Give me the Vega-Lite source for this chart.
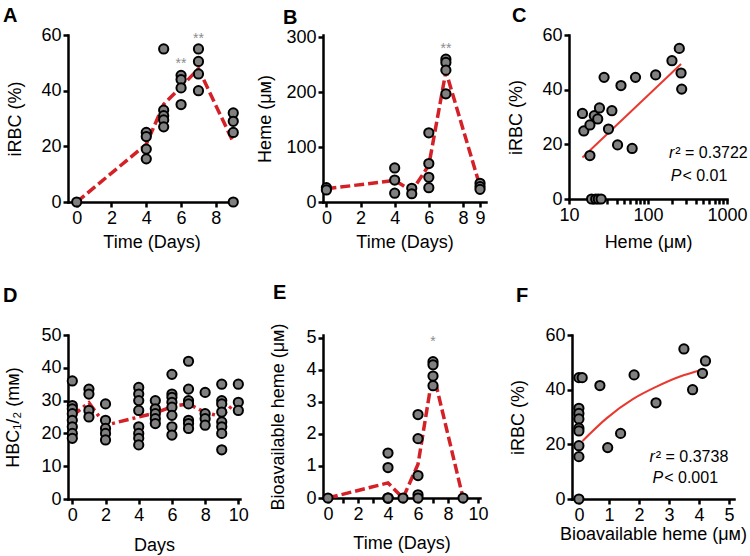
{
  "$schema": "https://vega.github.io/schema/vega-lite/v6.json",
  "padding": {"left": 3, "top": 6, "right": 5, "bottom": 5},
  "background": "white",
  "datasets": {
    "a": [
      {"day": 0, "v": 0},
      {"day": 4, "v": 25}, {"day": 4, "v": 23.5}, {"day": 4, "v": 19}, {"day": 4, "v": 15.5},
      {"day": 5, "v": 55}, {"day": 5, "v": 33}, {"day": 5, "v": 31}, {"day": 5, "v": 29.5}, {"day": 5, "v": 27},
      {"day": 6, "v": 45.5}, {"day": 6, "v": 44}, {"day": 6, "v": 41}, {"day": 6, "v": 35},
      {"day": 7, "v": 55}, {"day": 7, "v": 50.5}, {"day": 7, "v": 46}, {"day": 7, "v": 40},
      {"day": 9, "v": 32}, {"day": 9, "v": 29}, {"day": 9, "v": 25}, {"day": 9, "v": 0}
    ],
    "b": [
      {"day": 0, "v": 26}, {"day": 0, "v": 22},
      {"day": 4, "v": 62}, {"day": 4, "v": 40}, {"day": 4, "v": 16},
      {"day": 5, "v": 25}, {"day": 5, "v": 15},
      {"day": 6, "v": 126}, {"day": 6, "v": 70}, {"day": 6, "v": 45}, {"day": 6, "v": 26},
      {"day": 7, "v": 260}, {"day": 7, "v": 254}, {"day": 7, "v": 240}, {"day": 7, "v": 197},
      {"day": 9, "v": 34}, {"day": 9, "v": 28}, {"day": 9, "v": 23}
    ],
    "c": [
      {"x": 14.8, "y": 31.3}, {"x": 15.4, "y": 24.9}, {"x": 18.4, "y": 27.1}, {"x": 18.4, "y": 15.9},
      {"x": 20.9, "y": 30.5}, {"x": 23.1, "y": 29.3}, {"x": 24.3, "y": 33.3}, {"x": 27.8, "y": 44.5},
      {"x": 31.6, "y": 25.6}, {"x": 34.9, "y": 32.3}, {"x": 41.2, "y": 19.8}, {"x": 45.5, "y": 41.5},
      {"x": 63, "y": 18.5}, {"x": 69.5, "y": 44.5}, {"x": 125, "y": 45.4}, {"x": 201, "y": 50.6},
      {"x": 249, "y": 55.1}, {"x": 262, "y": 46.1}, {"x": 267, "y": 40.2},
      {"x": 19.3, "y": 0}, {"x": 21.8, "y": 0}, {"x": 23.5, "y": 0}, {"x": 25.5, "y": 0}
    ],
    "cfit": [{"x": 14.8, "y": 15.2}, {"x": 262, "y": 49.4}],
    "d": [
      {"day": 0, "v": 36}, {"day": 0, "v": 28.5}, {"day": 0, "v": 27.5}, {"day": 0, "v": 26}, {"day": 0, "v": 24}, {"day": 0, "v": 22}, {"day": 0, "v": 20}, {"day": 0, "v": 18.5},
      {"day": 1, "v": 33.5}, {"day": 1, "v": 32}, {"day": 1, "v": 27}, {"day": 1, "v": 25},
      {"day": 2, "v": 29}, {"day": 2, "v": 24}, {"day": 2, "v": 21.5}, {"day": 2, "v": 20}, {"day": 2, "v": 18},
      {"day": 4, "v": 34}, {"day": 4, "v": 32}, {"day": 4, "v": 30}, {"day": 4, "v": 27}, {"day": 4, "v": 22}, {"day": 4, "v": 20}, {"day": 4, "v": 18.5}, {"day": 4, "v": 16.5},
      {"day": 5, "v": 30}, {"day": 5, "v": 27.5}, {"day": 5, "v": 26}, {"day": 5, "v": 24.5}, {"day": 5, "v": 23},
      {"day": 6, "v": 38}, {"day": 6, "v": 32}, {"day": 6, "v": 31}, {"day": 6, "v": 29.5}, {"day": 6, "v": 28}, {"day": 6, "v": 25.5}, {"day": 6, "v": 22}, {"day": 6, "v": 19.5},
      {"day": 7, "v": 42}, {"day": 7, "v": 33.5}, {"day": 7, "v": 30}, {"day": 7, "v": 29}, {"day": 7, "v": 24}, {"day": 7, "v": 23}, {"day": 7, "v": 21.5},
      {"day": 8, "v": 32.5}, {"day": 8, "v": 26}, {"day": 8, "v": 24.5}, {"day": 8, "v": 22.5},
      {"day": 9, "v": 35}, {"day": 9, "v": 30}, {"day": 9, "v": 29}, {"day": 9, "v": 26.5}, {"day": 9, "v": 23.5}, {"day": 9, "v": 22}, {"day": 9, "v": 20}, {"day": 9, "v": 15},
      {"day": 10, "v": 35}, {"day": 10, "v": 29.5}, {"day": 10, "v": 27}
    ],
    "e": [
      {"day": 0, "v": 0},
      {"day": 4, "v": 1.4}, {"day": 4, "v": 0.95}, {"day": 4, "v": 0}, {"day": 4, "v": 0}, {"day": 4, "v": 0},
      {"day": 5, "v": 0},
      {"day": 6, "v": 2.6}, {"day": 6, "v": 1.85}, {"day": 6, "v": 0.7}, {"day": 6, "v": 0.1}, {"day": 6, "v": 0},
      {"day": 7, "v": 4.25}, {"day": 7, "v": 4.15}, {"day": 7, "v": 3.8}, {"day": 7, "v": 3.5},
      {"day": 9, "v": 0}
    ],
    "f": [
      {"x": 0, "y": 44.4}, {"x": 0.11, "y": 44.4}, {"x": 0.7, "y": 41.5}, {"x": 1.84, "y": 45.4},
      {"x": 3.5, "y": 54.9}, {"x": 4.22, "y": 50.5}, {"x": 4.12, "y": 46}, {"x": 3.79, "y": 40},
      {"x": 2.57, "y": 35.2}, {"x": 1.39, "y": 24}, {"x": 0.96, "y": 18.8},
      {"x": 0, "y": 33.2}, {"x": 0, "y": 31.3}, {"x": 0, "y": 29.3}, {"x": 0, "y": 25.9}, {"x": 0, "y": 24.9},
      {"x": 0, "y": 19.5}, {"x": 0, "y": 15.5}, {"x": 0, "y": 0}
    ],
    "ffit": [
      {"x": 0.12, "y": 21.2}, {"x": 0.92, "y": 29.5}, {"x": 1.81, "y": 36.6},
      {"x": 2.59, "y": 41.1}, {"x": 3.37, "y": 44.8}, {"x": 4.14, "y": 47.4}
    ]
  },
  "vconcat": [
    {
      "hconcat": [
        {
          "width": 167, "height": 167,
          "title": {"text": "A", "dx": -65, "offset": 0},
          "encoding": {
            "x": {"field": "day", "type": "quantitative", "title": "Time (Days)",
                  "scale": {"domain": [-0.5, 9.1], "nice": false, "zero": false},
                  "axis": {"values": [0, 2, 4, 6, 8], "titlePadding": 6}},
            "y": {"field": "v", "type": "quantitative", "title": "iRBC (%)",
                  "scale": {"domain": [0, 60], "nice": false},
                  "axis": {"values": [0, 20, 40, 60], "titlePadding": 16}}
          },
          "layer": [
            {"data": {"name": "a"},
             "mark": {"type": "line", "color": "#d42027", "strokeWidth": 3.5, "strokeDash": [10, 4]},
             "encoding": {"y": {"aggregate": "mean", "field": "v", "type": "quantitative", "title": "iRBC (%)"}}},
            {"data": {"name": "a"},
             "mark": {"type": "point", "shape": "circle", "filled": true, "fill": "#808080", "stroke": "#000", "strokeWidth": 2, "size": 85, "opacity": 1}},
            {"data": {"values": [{"day": 6, "v": 49.5, "t": "**"}, {"day": 7, "v": 58.5, "t": "**"}]},
             "mark": {"type": "text", "color": "#8c8c8c", "fontSize": 14, "baseline": "middle"},
             "encoding": {"text": {"field": "t"}}}
          ]
        },
        {
          "hconcat": [
            {
              "width": 163, "height": 167,
              "title": {"text": "B", "dx": -40, "offset": 0},
              "encoding": {
                "x": {"field": "day", "type": "quantitative", "title": "Time (Days)",
                      "scale": {"domain": [-0.2, 9.35], "nice": false, "zero": false},
                      "axis": {"values": [0, 2, 4, 6, 8, 9], "titlePadding": 6}},
                "y": {"field": "v", "type": "quantitative", "title": "Heme (μᴍ)",
                      "scale": {"domain": [0, 304], "nice": false},
                      "axis": {"values": [0, 100, 200, 300], "titlePadding": 11}}
              },
              "layer": [
                {"data": {"name": "b"},
                 "mark": {"type": "line", "color": "#d42027", "strokeWidth": 3.5, "strokeDash": [10, 4]},
                 "encoding": {"y": {"aggregate": "mean", "field": "v", "type": "quantitative", "title": "Heme (μᴍ)"}}},
                {"data": {"name": "b"},
                 "mark": {"type": "point", "shape": "circle", "filled": true, "fill": "#808080", "stroke": "#000", "strokeWidth": 2, "size": 85, "opacity": 1}},
                {"data": {"values": [{"day": 7, "v": 278, "t": "**"}]},
                 "mark": {"type": "text", "color": "#8c8c8c", "fontSize": 14, "baseline": "middle"},
                 "encoding": {"text": {"field": "t"}}}
              ]
            },
            {
              "width": 158, "height": 164,
              "title": {"text": "C", "dx": -57, "offset": 0},
              "encoding": {
                "x": {"field": "x", "type": "quantitative", "title": "Heme (μᴍ)",
                      "scale": {"type": "log", "domain": [10, 1000], "nice": false},
                      "axis": {"values": [10, 20, 30, 40, 50, 60, 70, 80, 90, 100, 200, 300, 400, 500, 600, 700, 800, 900, 1000],
                               "format": "d", "labelExpr": "indexof([10, 100, 1000], datum.value) >= 0 ? datum.label : ''",
                               "titlePadding": 9, "tickSize": 5}},
                "y": {"field": "y", "type": "quantitative", "title": "iRBC (%)",
                      "scale": {"domain": [0, 60], "nice": false},
                      "axis": {"values": [0, 20, 40, 60], "titlePadding": 16}}
              },
              "layer": [
                {"data": {"name": "cfit"},
                 "mark": {"type": "line", "color": "#e8382f", "strokeWidth": 2}},
                {"data": {"name": "c"},
                 "mark": {"type": "point", "shape": "circle", "filled": true, "fill": "#808080", "stroke": "#000", "strokeWidth": 2, "size": 85, "opacity": 1}},
                {"data": {"values": [{"x": 215, "y": 17, "t": "r"}, {"x": 265, "y": 8.5, "t": "P"}]},
                 "mark": {"type": "text", "color": "#000", "font": "Liberation Sans Narrow, Liberation Sans", "fontSize": 16, "fontStyle": "italic", "align": "right", "baseline": "middle"},
                 "encoding": {"text": {"field": "t"}}},
                {"data": {"values": [{"x": 215, "y": 17, "t": "² = 0.3722"}, {"x": 265, "y": 8.5, "t": " < 0.01"}]},
                 "mark": {"type": "text", "color": "#000", "font": "Liberation Sans Narrow, Liberation Sans", "fontSize": 16, "align": "left", "baseline": "middle", "dx": 1},
                 "encoding": {"text": {"field": "t"}}}
              ]
            }
          ],
          "spacing": 18
        }
      ],
      "spacing": 14
    },
    {
      "hconcat": [
        {
          "width": 172, "height": 164,
          "title": {"text": "D", "dx": -65, "offset": 20},
          "encoding": {
            "x": {"field": "day", "type": "quantitative", "title": "Days",
                  "scale": {"domain": [-0.26, 10.1], "nice": false, "zero": false},
                  "axis": {"values": [0, 2, 4, 6, 8, 10], "titlePadding": 12}},
            "y": {"field": "v", "type": "quantitative", "title": "HBC₁/₂ (mᴍ)",
                  "scale": {"domain": [0, 50], "nice": false},
                  "axis": {"values": [0, 10, 20, 30, 40, 50], "titlePadding": 18}}
          },
          "layer": [
            {"data": {"name": "d"},
             "mark": {"type": "line", "color": "#d42027", "strokeWidth": 3.5, "strokeDash": [10, 4, 3, 4]},
             "encoding": {"y": {"aggregate": "mean", "field": "v", "type": "quantitative", "title": "HBC₁/₂ (mᴍ)"}}},
            {"data": {"name": "d"},
             "mark": {"type": "point", "shape": "circle", "filled": true, "fill": "#808080", "stroke": "#000", "strokeWidth": 2, "size": 85, "opacity": 1}}
          ]
        },
        {
          "hconcat": [
            {
              "width": 157, "height": 163,
              "title": {"text": "E", "dx": -50, "offset": 20},
              "encoding": {
                "x": {"field": "day", "type": "quantitative", "title": "Time (Days)",
                      "scale": {"domain": [-0.33, 10.13], "nice": false, "zero": false},
                      "axis": {"values": [0, 1, 2, 3, 4, 5, 6, 7, 8, 9, 10], "labelExpr": "datum.value % 2 == 0 ? datum.label : ''", "titlePadding": 11}},
                "y": {"field": "v", "type": "quantitative", "title": "Bioavailable heme (μᴍ)",
                      "scale": {"domain": [0, 5.08], "nice": false},
                      "axis": {"values": [0, 1, 2, 3, 4, 5], "titlePadding": 18}}
              },
              "layer": [
                {"data": {"name": "e"},
                 "mark": {"type": "line", "color": "#d42027", "strokeWidth": 3.5, "strokeDash": [10, 4]},
                 "encoding": {"y": {"aggregate": "mean", "field": "v", "type": "quantitative", "title": "Bioavailable heme (μᴍ)"}}},
                {"data": {"name": "e"},
                 "mark": {"type": "point", "shape": "circle", "filled": true, "fill": "#808080", "stroke": "#000", "strokeWidth": 2, "size": 85, "opacity": 1}},
                {"data": {"values": [{"day": 7, "v": 4.85, "t": "*"}]},
                 "mark": {"type": "text", "color": "#8c8c8c", "fontSize": 14, "baseline": "middle"},
                 "encoding": {"text": {"field": "t"}}}
              ]
            },
            {
              "width": 162, "height": 164,
              "title": {"text": "F", "dx": -56, "offset": 20},
              "encoding": {
                "x": {"field": "x", "type": "quantitative", "title": "Bioavailable heme (μᴍ)",
                      "scale": {"domain": [-0.23, 5.17], "nice": false, "zero": false},
                      "axis": {"values": [0, 1, 2, 3, 4, 5], "titlePadding": 1}},
                "y": {"field": "y", "type": "quantitative", "title": "iRBC (%)",
                      "scale": {"domain": [0, 60], "nice": false},
                      "axis": {"values": [0, 20, 40, 60], "titlePadding": 17}}
              },
              "layer": [
                {"data": {"name": "ffit"},
                 "mark": {"type": "line", "color": "#e8382f", "strokeWidth": 2, "interpolate": "monotone"}},
                {"data": {"name": "f"},
                 "mark": {"type": "point", "shape": "circle", "filled": true, "fill": "#808080", "stroke": "#000", "strokeWidth": 2, "size": 85, "opacity": 1}},
                {"data": {"values": [{"x": 2.53, "y": 15.5, "t": "r"}, {"x": 2.81, "y": 7.8, "t": "P"}]},
                 "mark": {"type": "text", "color": "#000", "font": "Liberation Sans Narrow, Liberation Sans", "fontSize": 16, "fontStyle": "italic", "align": "right", "baseline": "middle"},
                 "encoding": {"text": {"field": "t"}}},
                {"data": {"values": [{"x": 2.53, "y": 15.5, "t": "² = 0.3738"}, {"x": 2.81, "y": 7.8, "t": " < 0.001"}]},
                 "mark": {"type": "text", "color": "#000", "font": "Liberation Sans Narrow, Liberation Sans", "fontSize": 16, "align": "left", "baseline": "middle", "dx": 1},
                 "encoding": {"text": {"field": "t"}}}
              ]
            }
          ],
          "spacing": 20
        }
      ],
      "spacing": 20
    }
  ],
  "spacing": 32,
  "config": {
    "font": "Liberation Sans",
    "view": {"stroke": null},
    "axis": {
      "grid": false, "domainColor": "#000", "domainWidth": 2.5, "domainCap": "square",
      "tickColor": "#000", "tickWidth": 2.5, "tickSize": 5,
      "labelFont": "Liberation Sans", "labelFontSize": 18, "labelColor": "#000", "labelPadding": 2,
      "labelOverlap": false, "labelFlush": false,
      "titleFont": "Liberation Sans", "titleFontSize": 18, "titleFontWeight": "normal", "titleColor": "#000"
    },
    "title": {"font": "Liberation Sans", "fontSize": 20, "fontWeight": "bold", "anchor": "start", "frame": "group", "color": "#000"}
  }
}
